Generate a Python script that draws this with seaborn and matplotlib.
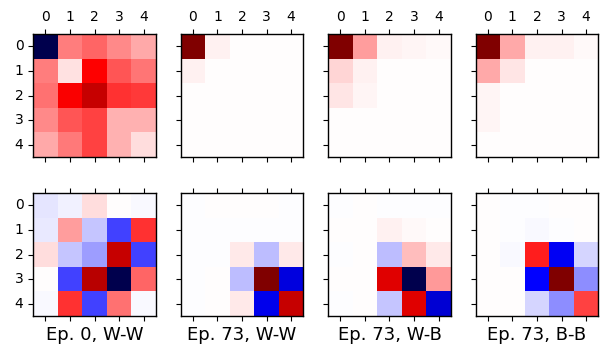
import numpy as np
import matplotlib
matplotlib.use("Agg")
import matplotlib.pyplot as plt
import seaborn as sns

# values, scaled to [-1, 1] per panel
ep0_ww_top = [[-1.00, 0.25, 0.30, 0.23, 0.17],
              [0.25, 0.06, 0.50, 0.33, 0.27],
              [0.28, 0.52, 0.72, 0.40, 0.39],
              [0.23, 0.33, 0.37, 0.15, 0.15],
              [0.17, 0.26, 0.37, 0.15, 0.07]]
ep73_ww_top = [[1.00, 0.03, 0.005, 0.005, 0.005],
               [0.03, 0.005, 0.005, 0.005, 0.005],
               [0.005, 0.005, 0.005, 0.005, 0.005],
               [0.005, 0.005, 0.005, 0.005, 0.005],
               [0.005, 0.005, 0.005, 0.005, 0.005]]
ep73_wb_top = [[1.00, 0.19, 0.03, 0.02, 0.01],
               [0.08, 0.03, 0.005, 0.005, 0.005],
               [0.05, 0.02, 0.005, 0.005, 0.005],
               [0.005, 0.005, 0.005, 0.005, 0.005],
               [0.005, 0.005, 0.005, 0.005, 0.005]]
ep73_bb_top = [[1.00, 0.17, 0.03, 0.03, 0.01],
               [0.17, 0.05, 0.005, 0.005, 0.005],
               [0.02, 0.005, 0.005, 0.005, 0.005],
               [0.02, 0.005, 0.005, 0.005, 0.005],
               [0.005, 0.005, 0.005, 0.005, 0.005]]

ep0_ww_bot = [[-0.05, -0.03, 0.07, 0.005, -0.01],
              [-0.04, 0.19, -0.11, -0.37, 0.40],
              [0.07, -0.11, -0.19, 0.72, -0.37],
              [0.005, -0.37, 0.78, -1.00, 0.30],
              [-0.01, 0.40, -0.37, 0.28, -0.01]]
ep73_ww_bot = [[-0.005, 0.003, 0.003, 0.003, -0.005],
               [-0.005, -0.005, -0.005, -0.005, -0.005],
               [-0.005, -0.005, 0.04, -0.13, 0.04],
               [-0.005, 0.003, -0.13, 1.00, -0.59],
               [-0.005, 0.003, 0.04, -0.55, 0.72]]
ep73_wb_bot = [[-0.005, 0.003, -0.005, -0.005, -0.005],
               [0.003, 0.003, 0.03, 0.015, 0.005],
               [-0.005, 0.003, -0.13, 0.13, 0.04],
               [0.003, 0.003, 0.62, -1.00, 0.20],
               [-0.005, 0.003, -0.11, 0.62, -0.62]]
ep73_bb_bot = [[0.003, -0.005, -0.005, 0.003, 0.003],
               [0.003, -0.005, -0.01, -0.005, 0.003],
               [0.003, -0.01, 0.44, -0.53, -0.08],
               [0.003, 0.003, -0.50, 1.00, -0.22],
               [0.003, 0.003, -0.08, -0.22, 0.37]]

titles = ["Ep. 0, W-W", "Ep. 73, W-W", "Ep. 73, W-B", "Ep. 73, B-B"]
top_row = [ep0_ww_top, ep73_ww_top, ep73_wb_top, ep73_bb_top]
bottom_row = [ep0_ww_bot, ep73_ww_bot, ep73_wb_bot, ep73_bb_bot]
tick_labels = ["0", "1", "2", "3", "4"]

fig, axes = plt.subplots(2, 4, figsize=(6.02, 3.47), dpi=100)
plt.subplots_adjust(left=0.055, right=0.994, top=0.902, bottom=0.089,
                    wspace=0.2, hspace=0.29)

for r, row in enumerate([top_row, bottom_row]):
    for c, mat in enumerate(row):
        ax = axes[r, c]
        sns.heatmap(np.array(mat), ax=ax, cmap="seismic", vmin=-1, vmax=1,
                    cbar=False, square=True)
        for s in ax.spines.values():
            s.set_visible(True)
            s.set_color("black")
            s.set_linewidth(1.0)
        ax.set_xticks(np.arange(5) + 0.5)
        ax.set_yticks(np.arange(5) + 0.5)
        ax.tick_params(axis="x", top=True, bottom=True, labeltop=(r == 0),
                       labelbottom=False, labelsize=10, length=3.5)
        ax.tick_params(axis="y", left=True, labelleft=(c == 0),
                       labelsize=10, length=3.5, rotation=0)
        ax.set_xticklabels(tick_labels if r == 0 else [])
        ax.set_yticklabels(tick_labels if c == 0 else [])
        if r == 1:
            ax.set_xlabel(titles[c], fontsize=13)

fig.savefig("out.png", dpi=100)
